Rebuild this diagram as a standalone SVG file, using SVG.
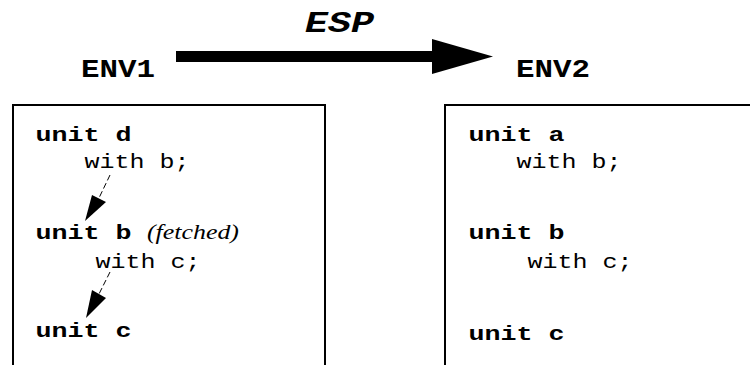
<svg xmlns="http://www.w3.org/2000/svg" width="750" height="365" viewBox="0 0 750 365">
<style>
.box{fill:none;stroke:#000;stroke-width:2}
.code{font-family:"Liberation Mono","Courier New",monospace;font-size:20px;fill:#000}
.b{font-weight:bold}
.hdr{font-family:"Liberation Mono","Courier New",monospace;font-size:25px;font-weight:bold;fill:#000}
.esp{font-family:"Liberation Mono","Courier New",monospace;font-size:30px;font-weight:bold;font-style:italic;fill:#000}
.note{font-family:"Liberation Serif","Times New Roman",serif;font-style:italic;font-size:21px;fill:#000}
.dep{stroke:#000;stroke-width:1;stroke-dasharray:6 3;fill:none}
</style>
<rect width="750" height="365" fill="#fff"/>
<g id="esp-arrow">
<rect x="176" y="51" width="257" height="11" fill="#000"/>
<polygon points="432,39 493,56.5 432,74" fill="#000"/>
<text class="esp" x="305" y="32" textLength="69" lengthAdjust="spacingAndGlyphs">ESP</text>
</g>
<g id="env1">
<text class="hdr" x="81" y="77" textLength="74" lengthAdjust="spacingAndGlyphs">ENV1</text>
<rect class="box" x="13" y="105" width="312" height="300"/>
<text class="code b" x="35.5" y="141" textLength="96" lengthAdjust="spacingAndGlyphs">unit d</text>
<text class="code" x="84.5" y="168" textLength="105" lengthAdjust="spacingAndGlyphs">with b;</text>
<text class="code b" x="35.5" y="239" textLength="96" lengthAdjust="spacingAndGlyphs">unit b</text>
<text class="note" x="147" y="239" textLength="92" lengthAdjust="spacingAndGlyphs">(fetched)</text>
<text class="code" x="95.5" y="268" textLength="105" lengthAdjust="spacingAndGlyphs">with c;</text>
<text class="code b" x="35.5" y="337" textLength="96" lengthAdjust="spacingAndGlyphs">unit c</text>
</g>
<g id="env2">
<text class="hdr" x="516" y="77" textLength="74" lengthAdjust="spacingAndGlyphs">ENV2</text>
<rect class="box" x="445" y="105" width="400" height="300"/>
<text class="code b" x="468.5" y="141" textLength="96" lengthAdjust="spacingAndGlyphs">unit a</text>
<text class="code" x="516.5" y="168" textLength="105" lengthAdjust="spacingAndGlyphs">with b;</text>
<text class="code b" x="468.5" y="239" textLength="96" lengthAdjust="spacingAndGlyphs">unit b</text>
<text class="code" x="527.5" y="268" textLength="105" lengthAdjust="spacingAndGlyphs">with c;</text>
<text class="code b" x="468.5" y="340" textLength="96" lengthAdjust="spacingAndGlyphs">unit c</text>
</g>
<g id="connectors">
<line class="dep" x1="110" y1="175" x2="99" y2="198"/>
<polygon points="92,195 106,202 85,221" fill="#000"/>
<line class="dep" x1="110" y1="272" x2="99" y2="294"/>
<polygon points="92,290 106,298 86,318" fill="#000"/>
</g>
</svg>
